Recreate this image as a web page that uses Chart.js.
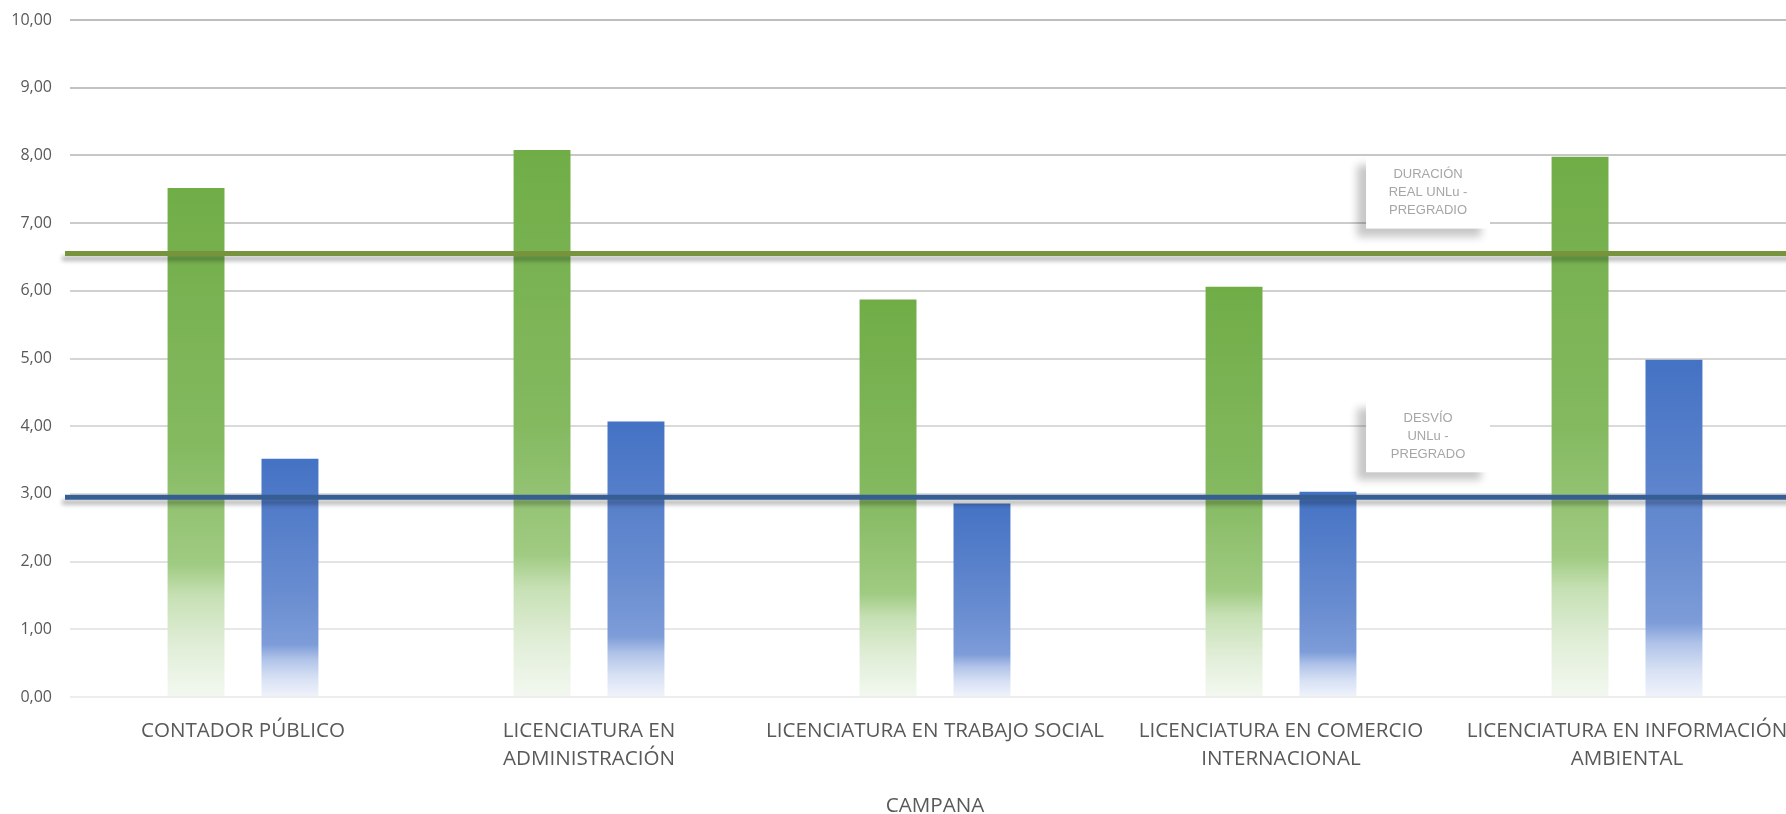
<!DOCTYPE html>
<html>
<head>
<meta charset="utf-8">
<title>Duración real y desvío - Campana</title>
<script src="https://cdn.jsdelivr.net/npm/chart.js@4.4.1/dist/chart.umd.min.js"></script>
<style>
  html, body { margin: 0; padding: 0; background: #fff; overflow: hidden; }
  #wrap { position: relative; width: 1800px; height: 814px; }
</style>
</head>
<body>
<div id="wrap"><canvas id="chart"></canvas></div>
<script>
// data
var carreras = [
  ['CONTADOR PÚBLICO'],
  ['LICENCIATURA EN', 'ADMINISTRACIÓN'],
  ['LICENCIATURA EN TRABAJO SOCIAL'],
  ['LICENCIATURA EN COMERCIO', 'INTERNACIONAL'],
  ['LICENCIATURA EN INFORMACIÓN', 'AMBIENTAL']
];
var duracion = [7.52, 8.08, 5.87, 6.06, 7.98];
var desvio = [3.52, 4.07, 2.86, 3.03, 4.98];
var duracionUNLu = 6.55;
var desvioUNLu = 2.95;
var yTicks = [0, 1, 2, 3, 4, 5, 6, 7, 8, 9, 10];
var refLabels = [
  ['DURACIÓN', 'REAL UNLu -', 'PREGRADIO'],
  ['DESVÍO', 'UNLu -', 'PREGRADO']
];

var GREY = '#595959';

// gradient stops, per bar, top -> bottom
var greenStops = [[0, 'rgb(112,173,71)'], [0.5, 'rgb(132,185,96)'], [0.74, 'rgb(160,203,130)'], [0.8, 'rgb(198,224,180)'], [0.9, 'rgb(225,238,216)'], [1, 'rgb(243,248,240)']];
var blueStops = [[0, 'rgb(68,114,196)'], [0.55, 'rgb(104,140,208)'], [0.78, 'rgb(125,156,216)'], [0.84, 'rgb(175,194,232)'], [0.92, 'rgb(215,225,244)'], [1, 'rgb(240,243,251)']];

function barFill(stops) {
  return function(c) {
    var chart = c.chart;
    if (!chart.chartArea || c.type !== 'data') return stops[0][1];
    var y = chart.scales.y;
    var top = y.getPixelForValue(c.parsed.y);
    var bottom = y.getPixelForValue(0);
    var g = chart.ctx.createLinearGradient(0, top, 0, bottom);
    stops.forEach(function(s) { g.addColorStop(s[0], s[1]); });
    return g;
  };
}

// horizontal reference lines + their text boxes
var refLinesPlugin = {
  id: 'refLines',
  afterDatasetsDraw: function(chart) {
    var ctx = chart.ctx;
    var area = chart.chartArea;
    var y = chart.scales.y;
    var lines = [
      { v: duracionUNLu, color: '#77933C', label: refLabels[0] },
      { v: desvioUNLu, color: '#375E93', label: refLabels[1] }
    ];
    lines.forEach(function(l) {
      var py = y.getPixelForValue(l.v);
      ctx.save();
      ctx.shadowColor = 'rgba(0,0,0,0.28)';
      ctx.shadowBlur = 4;
      ctx.shadowOffsetX = -3;
      ctx.shadowOffsetY = 5;
      ctx.strokeStyle = l.color;
      ctx.lineWidth = 5;
      ctx.beginPath();
      ctx.moveTo(area.left - 5, py);
      ctx.lineTo(area.right, py);
      ctx.stroke();
      ctx.restore();
    });
    lines.forEach(function(l) {
      var py = y.getPixelForValue(l.v);
      var cx = area.left + area.width * 0.785;
      var w = 124, h = 72;
      var bottom = py - 25;
      ctx.save();
      ctx.shadowColor = 'rgba(0,0,0,0.22)';
      ctx.shadowBlur = 8;
      ctx.shadowOffsetX = -9;
      ctx.shadowOffsetY = 8;
      ctx.fillStyle = '#fff';
      ctx.fillRect(cx - w / 2, bottom - h, w, h);
      ctx.restore();
      ctx.save();
      ctx.fillStyle = '#A6A6A6';
      ctx.font = '13px "Liberation Sans", Arial, sans-serif';
      ctx.textAlign = 'center';
      ctx.textBaseline = 'middle';
      l.label.forEach(function(t, i) {
        ctx.fillText(t, cx, bottom - 54 + i * 18);
      });
      ctx.restore();
    });
  }
};

var ctx = document.getElementById('chart').getContext('2d');
var chart = new Chart(ctx, {
  type: 'bar',
  data: {
    labels: carreras,
    datasets: [{
      label: 'Duración real',
      data: duracion,
      backgroundColor: barFill(greenStops),
      borderWidth: 0,
      categoryPercentage: 0.543,
      barPercentage: 0.606
    }, {
      label: 'Desvío',
      data: desvio,
      backgroundColor: barFill(blueStops),
      borderWidth: 0,
      categoryPercentage: 0.543,
      barPercentage: 0.606
    }]
  },
  options: {
    responsive: true,
    maintainAspectRatio: false,
    animation: false,
    layout: { padding: { top: 20, right: 0, bottom: 0, left: 0 } },
    plugins: {
      legend: { display: false },
      tooltip: { enabled: false }
    },
    scales: {
      x: {
        grid: { display: false },
        border: { display: false },
        ticks: {
          color: GREY,
          font: { family: '"Open Sans"', size: 20.6, lineHeight: 1.37 },
          padding: 12,
          maxRotation: 0,
          autoSkip: false
        },
        title: {
          display: true,
          text: 'CAMPANA',
          color: GREY,
          font: { family: '"Open Sans"', size: 20.6, lineHeight: 0.8 },
          padding: { top: 0, bottom: 0 }
        },
        afterFit: function(s) { s.height = 117; }
      },
      y: {
        min: 0,
        max: 10,
        afterBuildTicks: function(s) { s.ticks = yTicks.map(function(v) { return { value: v }; }); },
        border: { display: false },
        grid: {
          drawTicks: false,
          lineWidth: 2,
          color: function(c) {
            var v = c.tick ? c.tick.value : 0;
            var k = Math.round(237 - v * 4.8);
            return 'rgb(' + k + ',' + k + ',' + k + ')';
          }
        },
        ticks: {
          color: GREY,
          font: { family: '"Open Sans"', size: 16 },
          padding: 18,
          callback: function(v) { return Number(v).toFixed(2).replace('.', ','); }
        },
        afterFit: function(s) {
          s.width = 70;
          s.paddingTop = 0;
          s.paddingBottom = 0;
        }
      }
    }
  },
  plugins: [refLinesPlugin]
});
</script>
</body>
</html>
